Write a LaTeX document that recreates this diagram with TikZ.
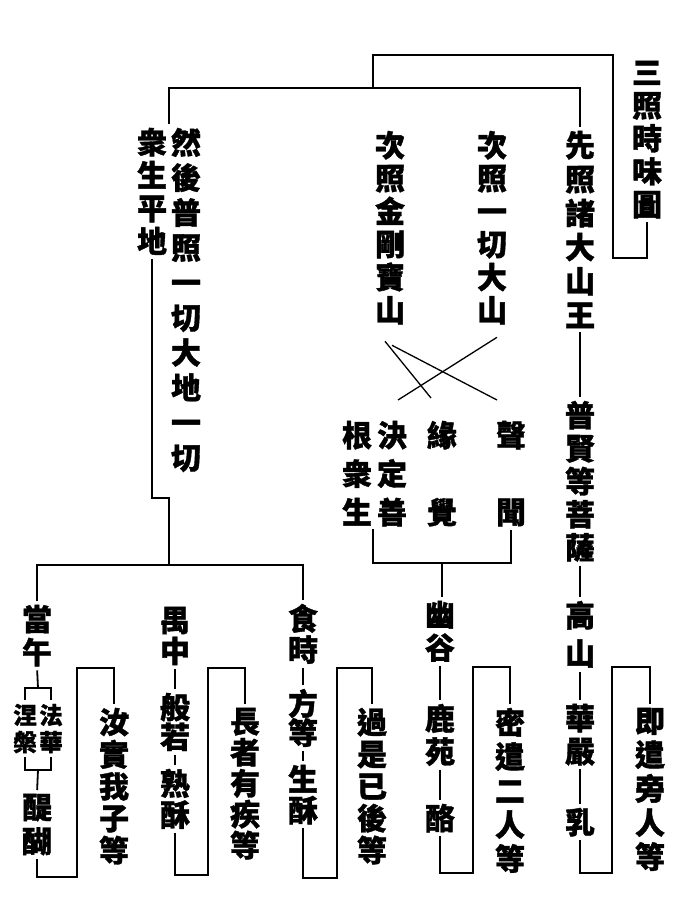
\documentclass[tikz,border=0pt]{standalone}
\usepackage{fontspec}
\newfontfamily\cjk{Noto Sans CJK TC}[BoldFeatures={FakeBold=1.2}]

\tikzset{
  col/.style={inner sep=0pt, anchor=north, align=center,
    font=\cjk\bfseries\fontsize{30}{#1}\selectfont},
  col/.default=33,
  small col/.style={inner sep=0pt, anchor=north, align=center,
    font=\cjk\bfseries\fontsize{23.5}{27}\selectfont},
  link/.style={line width=1.8pt, shorten <=3pt, shorten >=3pt},
  cross/.style={line width=1.3pt},
}

\begin{document}
\begin{tikzpicture}[x=1pt, y=-1pt, line width=1.8pt]
  \useasboundingbox (0,0) rectangle (681,921);

  % title and the three lights
  \node[col] (title) at (647,60) {三\\照\\時\\味\\圖};
  \node[col=34] (xian) at (580,130) {先\\照\\諸\\大\\山\\王};
  \node[col] (ci1) at (492,130) {次\\照\\一\\切\\大\\山};
  \node[col] (ci2) at (390,130) {次\\照\\金\\剛\\寶\\山};
  \node[col=35] (ranhou) at (186,127) {然\\後\\普\\照\\一\\切\\大\\地\\一\\切};
  \node[col] (zhongsheng) at (152,127) {衆\\生\\平\\地};

  \coordinate (topL) at (169,88);
  \coordinate (topR) at (580,88);
  \draw[link, shorten >=0pt] (title.south) |- (613,258) |- (373,55) -- (373,88);
  \draw[link] (topL |- ranhou.north) -- (topL) -- (topR) -- (xian.north);

  % bodhisattvas, hearers, pratyekas
  \node[col] (puxian) at (580,400) {普\\賢\\等\\菩\\薩};
  \node[col=38.5] (shengwen) at (511,420) {聲\\[38.5pt]聞};
  \node[col=38.5] (yuanjue) at (442,420) {緣\\[38.5pt]覺};
  \node[col=38.5] (jueding) at (392,420) {決\\定\\善};
  \node[col=38.5] (genzhong) at (357,420) {根\\衆\\生};

  \draw[link] (xian.south) -- (puxian.north);
  \draw[cross] ([xshift=-5pt,yshift=-16pt]ci2.south) -- ([xshift=-11pt,yshift=22pt]yuanjue.north);
  \draw[cross] ([xshift=2pt,yshift=-20pt]ci2.south) -- ([xshift=-14pt,yshift=20pt]shengwen.north);
  \draw[cross] ([xshift=5pt,yshift=-12pt]ci1.south) -- ([xshift=6pt,yshift=20pt]jueding.north);

  \coordinate (jg) at (373,563);
  \coordinate (mj) at (442,563);
  \draw[link] (shengwen.south) |- (jg) -- (jg |- genzhong.south);

  % right chains
  \node[col=38] (gaoshan) at (580,600) {高\\山};
  \node[col] (huayan) at (580,703) {華\\嚴};
  \node[col] (ru) at (580,807) {乳};
  \node[col] (yougu) at (440,600) {幽\\谷};
  \node[col] (luyuan) at (440,703) {鹿\\苑};
  \node[col] (lao) at (440,803) {酪};

  \draw[link] (puxian.south) -- (gaoshan.north);
  \draw[link] (gaoshan.south) -- (huayan.north);
  \draw[link] (huayan.south) -- (ru.north);
  \draw[link, shorten <=0pt] (mj) -- (mj |- yougu.north);
  \draw[link] (yougu.south) -- (luyuan.north);
  \draw[link] (luyuan.south) -- (lao.north);

  % plain of beings
  \coordinate (botL) at (37,565);
  \coordinate (botM) at (169,565);
  \coordinate (botR) at (303,565);
  \draw[link, shorten >=0pt] (zhongsheng.south) |- (169,498) -- (botM);

  \node[col] (dangwu) at (37,604) {當\\午};
  \node[small col] (fahua) at (51,703) {法\\華};
  \node[small col] (niepan) at (25,703) {涅\\槃};
  \node[col=34] (tihu) at (37,793) {醍\\醐};
  \node[col=31] (yuzhong) at (175,606) {禺\\中};
  \node[col=28] (bore) at (175,692) {般\\若};
  \node[col=31] (shusu) at (175,768) {熟\\酥};
  \node[col=31] (shishi) at (303,603) {食\\時};
  \node[col=29] (fangdeng) at (303,688) {方\\等};
  \node[col=31] (shengsu) at (303,764) {生\\酥};

  \draw[link] (dangwu.north) -- (botL) -- (botR) -- (shishi.north);
  \coordinate (fork) at (38,688);
  \coordinate (join) at (38,770);
  \draw[link, shorten >=0pt] (dangwu.south) -- (fork);
  \draw[link] (niepan.north) |- (fork) -| (fahua.north);
  \draw[link] (niepan.south) |- (join) -| (fahua.south);
  \draw[link, shorten <=0pt] (join) -- (tihu.north);
  \draw[link] (yuzhong.south) -- (bore.north);
  \draw[link] (bore.south) -- (shusu.north);
  \draw[link] (shishi.south) -- (fangdeng.north);
  \draw[link] (fangdeng.south) -- (shengsu.north);

  % parable brackets
  \node[col=32] (br1) at (114,707) {汝\\實\\我\\子\\等};
  \node[col=31] (br2) at (245,707) {長\\者\\有\\疾\\等};
  \node[col=32] (br3) at (372,707) {過\\是\\已\\後\\等};
  \node[col=34] (br4) at (510,707) {密\\遣\\二\\人\\等};
  \node[col=34] (br5) at (650,707) {即\\遣\\旁\\人\\等};

  \draw[link] (tihu.south) |- (77,877) |- (114,668) -- (br1.north);
  \draw[link] (shusu.south) |- (208,875) |- (245,668) -- (br2.north);
  \draw[link] (shengsu.south) |- (337,878) |- (372,668) -- (br3.north);
  \draw[link] (lao.south) |- (473,873) |- (510,667) -- (br4.north);
  \draw[link] (ru.south) |- (612,873) |- (650,667) -- (br5.north);
\end{tikzpicture}
\end{document}
